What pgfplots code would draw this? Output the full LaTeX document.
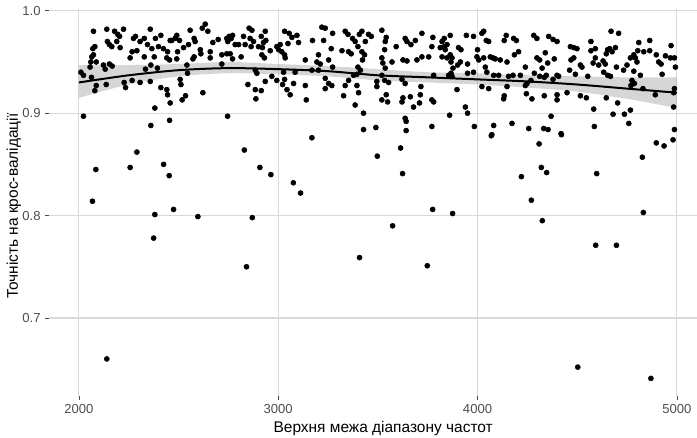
\documentclass[border=0pt]{standalone}
\usepackage{fontspec}
\setmainfont{Liberation Sans}
\usepackage{pgfplots}
\pgfplotsset{compat=1.18}
\usepgfplotslibrary{fillbetween}
\usetikzlibrary{calc}
\definecolor{gridgrey}{HTML}{D9D9D9}
\definecolor{ticktext}{HTML}{4D4D4D}
\definecolor{bandgrey}{HTML}{999999}

% cross-validation accuracy vs upper frequency bound
\pgfplotstableread{
x y
2073 0.980
2140 0.982
2179 0.980
2195 0.977
2204 0.975
2224 0.982
2190 0.970
2207 0.964
2153 0.967
2143 0.970
2165 0.965
2070 0.963
2080 0.965
2065 0.955
2073 0.957
2060 0.950
2087 0.950
2056 0.945
2123 0.947
2132 0.943
2153 0.948
2167 0.946
2010 0.940
2023 0.937
2063 0.935
2087 0.927
2080 0.922
2137 0.928
2227 0.930
2234 0.925
2267 0.932
2307 0.930
2358 0.931
2334 0.943
2361 0.947
2394 0.944
2378 0.955
2328 0.955
2257 0.954
2267 0.960
2291 0.961
2274 0.973
2284 0.975
2307 0.970
2328 0.973
2344 0.967
2358 0.982
2384 0.973
2411 0.976
2366 0.963
2399 0.965
2424 0.963
2445 0.960
2441 0.954
2458 0.971
2466 0.971
2483 0.973
2491 0.976
2505 0.971
2455 0.952
2491 0.953
2495 0.960
2525 0.964
2550 0.967
2558 0.981
2578 0.973
2583 0.970
2609 0.962
2612 0.958
2578 0.955
2572 0.953
2542 0.947
2545 0.939
2619 0.983
2634 0.987
2647 0.980
2672 0.969
2699 0.972
2742 0.973
2659 0.960
2659 0.954
2717 0.957
2742 0.958
2717 0.948
2441 0.923
2411 0.925
2458 0.910
2445 0.918
2518 0.913
2535 0.917
2512 0.928
2508 0.933
2622 0.920
2381 0.905
2023 0.897
2361 0.888
2455 0.893
2746 0.897
2754 0.975
2764 0.973
2771 0.976
2747 0.970
2784 0.967
2801 0.967
2826 0.975
2834 0.967
2854 0.983
2868 0.981
2859 0.973
2864 0.965
2876 0.970
2915 0.975
2901 0.965
2926 0.969
2935 0.980
2938 0.971
2921 0.964
2918 0.957
2931 0.954
2759 0.958
2771 0.953
2814 0.955
2960 0.961
2993 0.965
3010 0.967
3002 0.962
3018 0.960
3032 0.957
3032 0.980
3055 0.978
3069 0.974
3094 0.976
3102 0.969
3049 0.968
3035 0.954
3136 0.952
3172 0.971
3202 0.957
3194 0.950
3219 0.984
3228 0.971
3236 0.983
3273 0.978
3266 0.963
3253 0.952
3273 0.945
3211 0.948
3320 0.961
3353 0.960
3366 0.958
3336 0.980
3350 0.977
3373 0.973
3386 0.970
3400 0.965
3407 0.977
3420 0.980
3420 0.960
3433 0.957
3423 0.952
3453 0.977
3467 0.975
3437 0.970
3520 0.981
3537 0.970
3534 0.962
3520 0.954
3537 0.944
3534 0.932
3412 0.942
3400 0.945
3395 0.938
3378 0.937
3353 0.932
3336 0.927
3395 0.927
3403 0.920
3328 0.917
3386 0.908
3428 0.900
3495 0.931
3495 0.926
3520 0.913
3428 0.884
3490 0.886
2885 0.942
2893 0.939
2968 0.936
2993 0.932
3027 0.940
3032 0.933
3022 0.928
3044 0.923
3060 0.918
3077 0.929
3136 0.927
3141 0.913
3085 0.940
3169 0.942
3202 0.942
3236 0.934
3253 0.929
3269 0.927
3236 0.924
2848 0.928
2885 0.923
2888 0.914
2915 0.922
2935 0.931
3542 0.974
3525 0.949
3571 0.950
3592 0.965
3637 0.973
3646 0.970
3666 0.967
3688 0.971
3721 0.978
3696 0.952
3721 0.955
3755 0.955
3771 0.965
3776 0.974
3626 0.952
3646 0.951
3822 0.970
3833 0.973
3863 0.976
3813 0.964
3833 0.965
3838 0.962
3847 0.967
3822 0.955
3847 0.954
3863 0.957
3872 0.954
3867 0.950
3877 0.944
3867 0.939
3872 0.936
3855 0.937
3905 0.964
3917 0.962
3900 0.947
3914 0.950
3950 0.948
3944 0.976
3980 0.975
4000 0.962
3997 0.955
4006 0.952
4031 0.954
4031 0.980
4044 0.971
4056 0.970
4022 0.978
4064 0.955
4077 0.954
4089 0.953
4114 0.952
4148 0.950
4144 0.976
4134 0.971
4181 0.973
4195 0.971
4185 0.957
4206 0.960
4282 0.976
4298 0.973
4298 0.954
4312 0.952
4240 0.945
4285 0.939
4215 0.937
4178 0.937
4156 0.936
4148 0.926
4106 0.937
4081 0.937
4039 0.945
4047 0.940
3980 0.940
3950 0.939
4022 0.926
4056 0.924
4134 0.917
4131 0.914
4240 0.927
4248 0.929
4245 0.919
4273 0.914
3897 0.923
3939 0.906
3950 0.900
3860 0.898
3780 0.937
3716 0.926
3663 0.916
3626 0.915
3621 0.911
3679 0.906
3709 0.910
3713 0.918
3771 0.913
3780 0.911
3542 0.918
3549 0.911
3520 0.937
3554 0.930
3621 0.933
3637 0.929
3637 0.895
3642 0.892
3642 0.883
3771 0.887
3984 0.887
4081 0.888
4173 0.890
4257 0.885
4072 0.879
4357 0.975
4379 0.972
4399 0.970
4340 0.959
4324 0.944
4352 0.949
4385 0.953
4312 0.936
4335 0.935
4345 0.937
4379 0.933
4399 0.937
4407 0.936
4466 0.965
4483 0.964
4499 0.963
4469 0.952
4483 0.954
4516 0.947
4524 0.945
4462 0.942
4553 0.936
4491 0.938
4569 0.970
4569 0.961
4591 0.963
4591 0.954
4580 0.949
4630 0.951
4641 0.948
4608 0.947
4633 0.940
4653 0.937
4667 0.936
4646 0.958
4663 0.963
4675 0.960
4692 0.964
4653 0.962
4670 0.980
4708 0.978
4697 0.945
4733 0.942
4750 0.947
4767 0.954
4784 0.957
4792 0.954
4800 0.950
4809 0.969
4804 0.961
4834 0.960
4864 0.971
4864 0.961
4897 0.957
4909 0.950
4921 0.948
4926 0.938
4943 0.956
4971 0.966
4968 0.954
4988 0.954
4993 0.945
4784 0.941
4775 0.932
4787 0.929
4770 0.927
4817 0.937
4830 0.924
4892 0.918
4984 0.920
4988 0.924
4268 0.932
4335 0.917
4399 0.918
4399 0.913
4449 0.920
4516 0.917
4546 0.915
4646 0.915
4703 0.910
4583 0.904
4680 0.899
4737 0.899
4767 0.903
4759 0.890
4984 0.906
4988 0.884
4369 0.897
4332 0.885
4419 0.880
4586 0.887
2291 0.862
2085 0.845
2257 0.847
2425 0.850
2453 0.839
2068 0.814
2381 0.801
2475 0.806
2597 0.799
2375 0.778
2830 0.864
2908 0.847
2963 0.840
2870 0.798
2841 0.750
3076 0.832
3112 0.822
3169 0.876
3497 0.858
3408 0.759
2140 0.660
3614 0.866
3624 0.841
3775 0.806
3875 0.802
3574 0.790
3748 0.751
4069 0.878
4354 0.884
4309 0.870
4421 0.879
4320 0.847
4347 0.842
4220 0.838
4270 0.815
4325 0.795
4598 0.841
4593 0.771
4697 0.771
4503 0.652
4827 0.857
4832 0.803
4897 0.871
4936 0.868
4981 0.874
4870 0.641
}\points

% loess fit with its confidence band
\pgfplotstableread{
x fit lo hi
2000 0.930 0.915 0.947
2250 0.937 0.928 0.947
2500 0.942 0.936 0.948
2750 0.944 0.939 0.950
3000 0.943 0.938 0.948
3250 0.941 0.936 0.946
3500 0.937 0.932 0.943
3750 0.935 0.930 0.940
4000 0.933 0.928 0.939
4250 0.931 0.925 0.937
4500 0.928 0.921 0.936
4750 0.924 0.914 0.935
5000 0.920 0.905 0.935
}\smoothfit

\begin{document}
\begin{tikzpicture}
\begin{axis}[
  at={(0,0)}, anchor=south west, scale only axis,
  width=493.3pt, height=290.6pt,
  xmin=1850, xmax=5150, ymin=0.6238, ymax=1.0022,
  xtick={2000,3000,4000,5000}, ytick={0.7,0.8,0.9,1.0},
  grid=major, major grid style={gridgrey, line width=0.9pt},
  axis line style={draw=none},
  tick pos=left, tick align=outside, major tick length=2.75pt,
  tick style={color=black!70, line width=0.5pt},
  ticklabel style={font=\fontsize{9.8}{11}\selectfont, text=ticktext},
  /pgf/number format/assume math mode=true,
  y tick label style={/pgf/number format/.cd, fixed, fixed zerofill, precision=1, /tikz/.cd},
  x tick label style={/pgf/number format/.cd, set thousands separator={}, /tikz/.cd},
  scaled ticks=false,
  xlabel={Верхня межа діапазону частот},
  ylabel={Точність на крос-валідації},
  every axis x label/.style={at={($(axis description cs:0.5,0)+(4pt,-24.6pt)$)}, anchor=center, font=\fontsize{11.6}{13}\selectfont},
  every axis y label/.style={at={($(axis description cs:0,0.5)+(-26.4pt,-3pt)$)}, rotate=90, anchor=center, font=\fontsize{11.6}{13}\selectfont},
]
  \addplot[only marks, mark=*, mark size=1.9pt, mark options={fill=black, draw=black}] table[x=x, y=y] {\points};
  \addplot[name path=hi, draw=none, smooth] table[x=x, y=hi] {\smoothfit};
  \addplot[name path=lo, draw=none, smooth] table[x=x, y=lo] {\smoothfit};
  \addplot[bandgrey, fill opacity=0.4, draw=none] fill between[of=hi and lo];
  \addplot[black, line width=1.5pt, smooth] table[x=x, y=fit] {\smoothfit};
\end{axis}
\pgfresetboundingbox
\path[use as bounding box] (-36.75pt,-30.75pt) rectangle (486pt,297pt);
\end{tikzpicture}
\end{document}
